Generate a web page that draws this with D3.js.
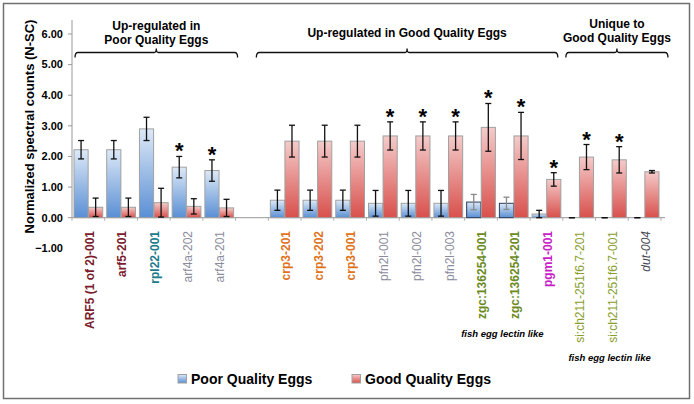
<!DOCTYPE html>
<html>
<head>
<meta charset="utf-8">
<script src="https://cdn.jsdelivr.net/npm/d3@7"></script>
<style>
  body { margin: 0; background: #fff; }
  text { font-family: "Liberation Sans", Arial, Helvetica, sans-serif; }
</style>
</head>
<body>
<div id="chart"></div>
<script>
// data
var group1 = ["ARF5 (1 of 2)-001", "arf5-201", "rpl22-001", "arf4a-202", "arf4a-201"];
var group2 = ["crp3-201", "crp3-202", "crp3-001", "pfn2l-001", "pfn2l-002", "pfn2l-003",
              "zgc:136254-001", "zgc:136254-201", "pgm1-001"];
var group3 = ["si:ch211-251f6.7-201", "si:ch211-251f6.7-001", "dut-004"];
var categories = group1.concat(group2, group3);

var poorValues = [2.22, 2.22, 2.90, 1.65, 1.54, 0.57, 0.57, 0.57, 0.47, 0.47, 0.47, 0.51, 0.47, 0.12, 0, 0, 0];
var poorErrors = [0.30, 0.30, 0.38, 0.35, 0.35, 0.33, 0.33, 0.33, 0.42, 0.42, 0.42, 0.25, 0.20, 0.12, 0, 0, 0];
var goodValues = [0.34, 0.34, 0.49, 0.37, 0.32, 2.50, 2.50, 2.50, 2.67, 2.67, 2.67, 2.95, 2.67, 1.25, 1.98, 1.89, 1.50];
var goodErrors = [0.30, 0.30, 0.47, 0.25, 0.28, 0.52, 0.52, 0.52, 0.46, 0.46, 0.46, 0.78, 0.77, 0.22, 0.41, 0.43, 0.04];
var poorStar = [0, 0, 0, 1, 1, 0, 0, 0, 0, 0, 0, 0, 0, 0, 0, 0, 0];
var goodStar = [0, 0, 0, 0, 0, 0, 0, 0, 1, 1, 1, 1, 1, 1, 1, 1, 0];

var yTicks = [-1, 0, 1, 2, 3, 4, 5, 6];
var seriesNames = ["Poor Quality Eggs", "Good Quality Eggs"];
var groupTitles = [["Up-regulated in", "Poor Quality Eggs"],
                   ["Up-regulated in Good Quality Eggs"],
                   ["Unique to", "Good Quality Eggs"]];
var notes = ["fish egg lectin like", "fish egg lectin like"];

// label styling (per gene)
var labelStyle = {
  "ARF5 (1 of 2)-001": ["#7b1c2c", "bold", "normal"],
  "arf5-201": ["#7b1c2c", "bold", "normal"],
  "rpl22-001": ["#1b7a8c", "bold", "normal"],
  "arf4a-202": ["#8c8c9c", "normal", "normal"],
  "arf4a-201": ["#8c8c9c", "normal", "normal"],
  "crp3-201": ["#e0731c", "bold", "normal"],
  "crp3-202": ["#e0731c", "bold", "normal"],
  "crp3-001": ["#e0731c", "bold", "normal"],
  "pfn2l-001": ["#8c8c9c", "normal", "normal"],
  "pfn2l-002": ["#8c8c9c", "normal", "normal"],
  "pfn2l-003": ["#8c8c9c", "normal", "normal"],
  "zgc:136254-001": ["#6b8a1e", "bold", "normal"],
  "zgc:136254-201": ["#6b8a1e", "bold", "normal"],
  "pgm1-001": ["#c81ec8", "bold", "normal"],
  "si:ch211-251f6.7-201": ["#8a9e2e", "normal", "normal"],
  "si:ch211-251f6.7-001": ["#8a9e2e", "normal", "normal"],
  "dut-004": ["#4a4a55", "normal", "italic"]
};
var darkOutline = ["zgc:136254-001", "zgc:136254-201"];

var W = 694, H = 404;
var svg = d3.select("#chart").append("svg")
  .attr("width", W).attr("height", H);

var defs = svg.append("defs");
function grad(id, top, bottom) {
  var g = defs.append("linearGradient").attr("id", id)
    .attr("x1", 0).attr("y1", 0).attr("x2", 0).attr("y2", 1);
  g.append("stop").attr("offset", "0%").attr("stop-color", top);
  g.append("stop").attr("offset", "100%").attr("stop-color", bottom);
}
grad("gPoor", "#dde9f7", "#5a8fd4");
grad("gGood", "#f4cbca", "#d8504c");

// outer frame
svg.append("rect")
  .attr("x", 3.5).attr("y", 3.5).attr("width", 686).attr("height", 395)
  .attr("fill", "none").attr("stroke", "#707070").attr("stroke-width", 1.5);

// slots: group1, an empty slot, group2, group3
var slots = group1.concat(["__gap"], group2, group3);
var x = d3.scaleBand().domain(slots).range([72, 661]).padding(0);
var bw = x.bandwidth();
var xs = d3.scaleBand().domain(["poor", "good"]).range([2, bw - 2]).paddingInner(0.03);

var y = d3.scaleLinear().domain([-1, 6]).range([248.3, 34]);

// y axis
svg.append("line")
  .attr("x1", 72).attr("x2", 72).attr("y1", 20).attr("y2", y(0))
  .attr("stroke", "#999");
svg.selectAll(".ytick").data(yTicks.filter(function(d) { return d >= 0; }))
  .enter().append("line")
  .attr("x1", 68).attr("x2", 72)
  .attr("y1", function(d) { return y(d); }).attr("y2", function(d) { return y(d); })
  .attr("stroke", "#999");
svg.selectAll(".ylab").data(yTicks)
  .enter().append("text")
  .attr("x", 63).attr("y", function(d) { return y(d); })
  .attr("dy", "0.35em")
  .attr("text-anchor", "end")
  .style("font-size", "11px").style("font-weight", "bold")
  .text(function(d) { return d3.format(".2f")(d); });

svg.append("text")
  .attr("transform", "translate(34," + 126.5 + ") rotate(-90)")
  .attr("text-anchor", "middle")
  .style("font-size", "13px").style("font-weight", "bold")
  .text("Normalized spectral counts (N-SC)");

// x axis
svg.append("line")
  .attr("x1", 72).attr("x2", 665).attr("y1", y(0)).attr("y2", y(0))
  .attr("stroke", "#999");
svg.selectAll(".xtick").data(slots.concat(["__end"]))
  .enter().append("line")
  .attr("x1", function(d) { return d == "__end" ? 661 : x(d); })
  .attr("x2", function(d) { return d == "__end" ? 661 : x(d); })
  .attr("y1", y(0)).attr("y2", y(0) + 3)
  .attr("stroke", "#aaa");

var rows = categories.map(function(c, i) {
  return {cat: c, poor: poorValues[i], poorErr: poorErrors[i], good: goodValues[i],
          goodErr: goodErrors[i], poorStar: poorStar[i], goodStar: goodStar[i]};
});

var bars = [];
rows.forEach(function(r) {
  bars.push({cat: r.cat, key: "poor", v: r.poor, e: r.poorErr, s: r.poorStar});
  bars.push({cat: r.cat, key: "good", v: r.good, e: r.goodErr, s: r.goodStar});
});

function isDark(d) { return d.key == "poor" && darkOutline.indexOf(d.cat) >= 0; }

svg.selectAll(".bar").data(bars).enter().append("rect")
  .attr("x", function(d) { return x(d.cat) + xs(d.key); })
  .attr("y", function(d) { return y(d.v); })
  .attr("width", xs.bandwidth())
  .attr("height", function(d) { return y(0) - y(d.v); })
  .attr("fill", function(d) { return d.key == "poor" ? "url(#gPoor)" : "url(#gGood)"; })
  .attr("stroke", function(d) { return isDark(d) ? "#2a3a5c" : "#a0a0a0"; })
  .attr("stroke-width", 1)
  .style("display", function(d) { return d.v > 0 ? null : "none"; });

// error bars
var eb = svg.selectAll(".err").data(bars).enter().append("g")
  .attr("stroke", function(d) { return isDark(d) ? "#8a8a8a" : "#111"; })
  .attr("stroke-width", 1.3);
function cx(d) { return x(d.cat) + xs(d.key) + xs.bandwidth() / 2; }
eb.append("line")
  .attr("x1", cx).attr("x2", cx)
  .attr("y1", function(d) { return y(d.v + d.e); })
  .attr("y2", function(d) { return y(Math.max(0, d.v - d.e)); });
eb.append("line")
  .attr("x1", function(d) { return cx(d) - 3; }).attr("x2", function(d) { return cx(d) + 3; })
  .attr("y1", function(d) { return y(d.v + d.e); }).attr("y2", function(d) { return y(d.v + d.e); });
eb.append("line")
  .attr("x1", function(d) { return cx(d) - 3; }).attr("x2", function(d) { return cx(d) + 3; })
  .attr("y1", function(d) { return y(Math.max(0, d.v - d.e)); })
  .attr("y2", function(d) { return y(Math.max(0, d.v - d.e)); });

// significance stars
svg.selectAll(".star").data(bars.filter(function(d) { return d.s; })).enter().append("text")
  .attr("x", cx)
  .attr("y", function(d) { return y(d.v + d.e) + 2; })
  .attr("text-anchor", "middle")
  .style("font-size", "22px").style("font-weight", "bold")
  .text("*");

// category labels
svg.selectAll(".xlab").data(categories).enter().append("text")
  .attr("transform", function(d) { return "translate(" + (x(d) + bw / 2 + 1) + ",231) rotate(-90)"; })
  .attr("dy", "0.35em")
  .attr("text-anchor", "end")
  .style("font-size", "12px")
  .style("fill", function(d) { return labelStyle[d][0]; })
  .style("font-weight", function(d) { return labelStyle[d][1]; })
  .style("font-style", function(d) { return labelStyle[d][2]; })
  .text(function(d) { return d; });

// group brackets and titles
var brackets = [
  {x1: x(group1[0]) + 3, x2: x(group1[group1.length - 1]) + bw + 2},
  {x1: x(group2[0]) - 12, x2: x(group2[group2.length - 1]) + bw - 5},
  {x1: x(group3[0]) + 3, x2: x(group3[group3.length - 1]) + bw + 7}
];
var by = 52.5;
brackets.forEach(function(b, i) {
  var m = (b.x1 + b.x2) / 2;
  var p = d3.path();
  p.moveTo(b.x1, by + 5);
  p.quadraticCurveTo(b.x1, by, b.x1 + 3, by);
  p.lineTo(m - 2, by);
  p.quadraticCurveTo(m, by, m, by - 4);
  p.quadraticCurveTo(m, by, m + 2, by);
  p.lineTo(b.x2 - 3, by);
  p.quadraticCurveTo(b.x2, by, b.x2, by + 5);
  svg.append("path").attr("d", p.toString())
    .attr("fill", "none").attr("stroke", "#111").attr("stroke-width", 1.3);

  var lines = groupTitles[i];
  var y0 = lines.length == 1 ? 36.6 : (i == 0 ? 29.5 : 28);
  lines.forEach(function(t, j) {
    svg.append("text")
      .attr("x", m).attr("y", y0 + j * 14.3)
      .attr("text-anchor", "middle")
      .style("font-size", "12px").style("font-weight", "bold")
      .text(t);
  });
});

// notes below labels
var noteAnchors = [
  {cx: (x(group2[6]) + x(group2[7]) + bw) / 2 + 5, y: 336.5},
  {cx: (x(group3[0]) + x(group3[1]) + bw) / 2 + 14, y: 361}
];
noteAnchors.forEach(function(n, i) {
  svg.append("text")
    .attr("x", n.cx).attr("y", n.y)
    .attr("text-anchor", "middle")
    .style("font-size", "9.5px").style("font-weight", "bold").style("font-style", "italic")
    .text(notes[i]);
});

// legend
var legendX = [178, 352];
seriesNames.forEach(function(s, i) {
  svg.append("rect")
    .attr("x", legendX[i]).attr("y", 374.5).attr("width", 8.5).attr("height", 8.5)
    .attr("fill", i == 0 ? "url(#gPoor)" : "url(#gGood)")
    .attr("stroke", "#a0a0a0");
  svg.append("text")
    .attr("x", legendX[i] + 13).attr("y", 383.5)
    .style("font-size", "14px").style("font-weight", "bold")
    .text(s);
});
</script>
</body>
</html>
